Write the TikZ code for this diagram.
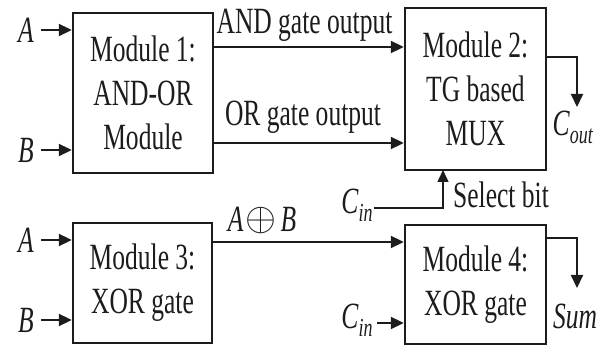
\documentclass[tikz,border=0pt]{standalone}
\usepackage{fontspec}
\setmainfont{Liberation Serif}[FakeStretch=0.69]
\usetikzlibrary{arrows.meta}
\definecolor{ink}{RGB}{28,28,28}
% italic subscript for signal names
\newcommand\lowsub[1]{\raisebox{-8pt}{\fontsize{26}{26}\selectfont\textit{#1}}}

\begin{document}
\begin{tikzpicture}[x=1pt,y=-1pt,
  txt/.style={font=\fontsize{37}{44}\selectfont, text=ink, inner sep=1pt},
  modbox/.style={txt, draw=ink, line width=2.4pt, align=center},
  wire/.style={draw=ink, line width=2pt},
  arr/.style={wire, -{Triangle[length=13pt,width=12pt]}},
  thinarr/.style={draw=ink, line width=1.4pt, -{Triangle[length=12pt,width=11pt]}}]

\useasboundingbox (0,0) rectangle (603,347);

% the four modules
\node[modbox, minimum width=140pt, minimum height=160pt] (m1) at (143,93)
  {Module 1:\\AND-OR\\Module};
\node[modbox, minimum width=141pt, minimum height=162pt] (m2) at (475.5,89)
  {Module 2:\\TG based\\MUX};
\node[modbox, minimum width=139pt, minimum height=120pt] (m3) at (142.5,283)
  {Module 3:\\XOR gate};
\node[modbox, minimum width=141pt, minimum height=119pt] (m4) at (475.5,284.5)
  {Module 4:\\XOR gate};

% primary inputs
\node[txt] (a1) at (26,30) {\textit{A}};
\node[txt] (b1) at (26,150) {\textit{B}};
\node[txt] (a2) at (26,240) {\textit{A}};
\node[txt] (b2) at (26,320) {\textit{B}};
\draw[arr, shorten <=6pt] (a1.east) -- (m1.west |- a1.east);
\draw[arr, shorten <=6pt] (b1.east) -- (m1.west |- b1.east);
\draw[arr, shorten <=6pt] (a2.east) -- (m3.west |- a2.east);
\draw[arr, shorten <=6pt] (b2.east) -- (m3.west |- b2.east);

% AND / OR outputs into the multiplexer
\node[txt] (andl) at (304.5,25) {AND gate output};
\node[txt] (orl) at (303,117) {OR gate output};
\draw[arr] (m1.east |- 0,47) -- (m2.west |- 0,47);
\draw[arr] (m1.east |- 0,143) -- (m2.west |- 0,143);

% carry out
\coordinate (cot) at (577,107);
\draw[arr] (m2.east |- 0,57) -| (cot);
\node[txt] (cout) at (573,127) {\textit{C}\lowsub{out}};

% select bit
\node[txt] (cin1) at (357,205) {\textit{C}\lowsub{in}};
\coordinate (sel) at (443,170);
\draw[thinarr] (cin1.east |- 0,208) -| (sel);
\node[txt] (sell) at (501,195) {Select bit};

% XOR path
\node[txt] (axb) at (262,220)
  {\textit{A}\kern2pt\raisebox{1pt}{\scalebox{1.6}{$\mathversion{bold}\oplus$}}\kern4pt\textit{B}};
\draw[arr] (m3.east |- 0,242) -- (m4.west |- 0,242);
\node[txt] (cin2) at (357,320) {\textit{C}\lowsub{in}};
\draw[arr, shorten <=3pt] (cin2.east |- 0,323) -- (m4.west |- 0,323);

% sum output
\coordinate (sumt) at (577,288);
\draw[arr] (m4.east |- 0,238) -| (sumt);
\node[txt] (sum) at (575,316) {\textit{Sum}};
\end{tikzpicture}
\end{document}
